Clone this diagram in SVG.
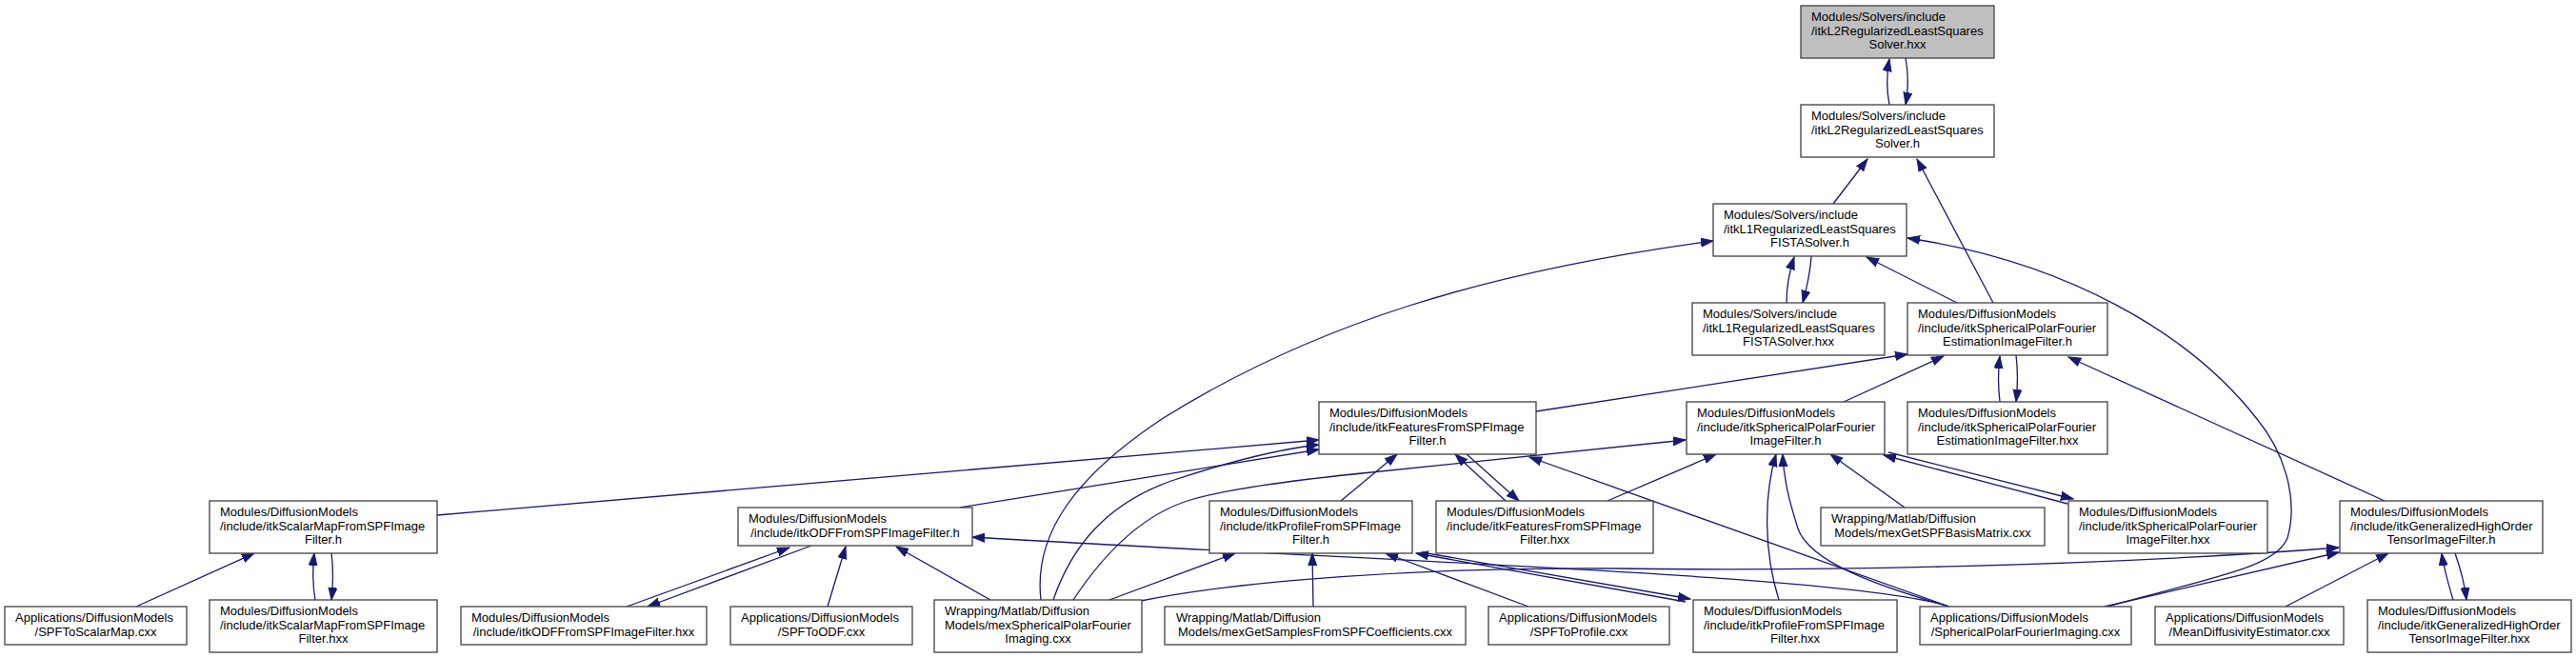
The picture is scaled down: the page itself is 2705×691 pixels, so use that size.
<svg xmlns="http://www.w3.org/2000/svg" width="2705" height="691" viewBox="0 0 2705 691">
<defs>
<marker id="ah" markerWidth="16" markerHeight="12" refX="13" refY="5" orient="auto" markerUnits="userSpaceOnUse">
<path d="M0,0.5 L13,5 L0,9.5 z" fill="#191970" stroke="#191970" stroke-width="1"/>
</marker>
</defs>
<style>
.n rect{fill:#ffffff;stroke:#404040;stroke-width:1.3}
.root rect{fill:#bfbfbf}
text{font-family:"Liberation Sans",Arial,sans-serif;font-size:13px;fill:#000}
.c{text-anchor:middle}
.e path{fill:none;stroke:#191970;stroke-width:1.3;marker-end:url(#ah)}
</style>
<rect width="2705" height="691" fill="#ffffff"/>
<g class="e" id="connectors">
<path d="M1984,110 C1981,95 1981,78 1984,62"/>
<path d="M2001,61 C2004,77 2004,94 2001,110"/>
<path d="M1925,214 L1961,167"/>
<path d="M2093,318 L2013,167"/>
<path d="M1876,318 C1876,300 1879,285 1884,270"/>
<path d="M1902,269 C1901,288 1897,303 1893,318"/>
<path d="M2055,318 L1960,270"/>
<path d="M1093,630 C1085,560 1130,500 1220,440 C1380,340 1560,285 1799,253"/>
<path d="M2212,637 C2330,605 2390,595 2402,565 C2415,520 2395,470 2370,440 C2300,350 2170,275 2003,250"/>
<path d="M1613,432 L2003,372"/>
<path d="M1936,422 L2041,374"/>
<path d="M2100,422 C2098,405 2098,390 2100,374"/>
<path d="M2117,373 C2119,390 2119,405 2117,422"/>
<path d="M2504,526 L2172,375"/>
<path d="M459,541 L1385,462"/>
<path d="M1008,533 L1385,472"/>
<path d="M1106,630 C1125,575 1160,530 1230,505 C1290,485 1340,472 1385,467"/>
<path d="M1127,630 C1160,580 1200,540 1250,525 C1300,510 1400,500 1440,496 L1770,462"/>
<path d="M658,637 L829,575"/>
<path d="M852,573 L680,637"/>
<path d="M869,637 L888,574"/>
<path d="M1040,630 L941,574"/>
<path d="M2047,637 C1950,605 1500,592 1021,564"/>
<path d="M1379,637 L1378,581"/>
<path d="M1165,630 L1297,581"/>
<path d="M1605,637 L1455,581"/>
<path d="M1770,632 L1487,581"/>
<path d="M1493,580 L1775,629"/>
<path d="M2400,637 L2508,581"/>
<path d="M2576,630 C2570,610 2566,596 2564,581"/>
<path d="M2578,581 C2584,598 2588,613 2590,630"/>
<path d="M2210,637 L2456,580"/>
<path d="M1198,631 C1300,610 1500,595 1700,597 C1900,600 2200,595 2456,575"/>
<path d="M1408,526 L1467,477"/>
<path d="M1581,526 L1528,477"/>
<path d="M1539,476 L1595,526"/>
<path d="M2047,637 L1606,480"/>
<path d="M1688,526 L1802,477"/>
<path d="M1868,630 C1852,580 1852,520 1865,477"/>
<path d="M2047,637 C1970,615 1900,590 1888,555 C1880,530 1873,505 1872,477"/>
<path d="M2000,533 L1922,477"/>
<path d="M2171,529 L1978,478"/>
<path d="M1983,475 L2177,524"/>
<path d="M143,637 L267,581"/>
<path d="M331,630 C328,612 328,598 330,581"/>
<path d="M348,580 C350,597 350,613 348,630"/>
</g>
<g id="node-A" class="n root"><rect x="1891" y="6" width="203" height="55"/><text x="1902" y="22">Modules/Solvers/include</text><text x="1902" y="36.5">/itkL2RegularizedLeastSquares</text><text class="c" x="1992.5" y="51">Solver.hxx</text></g>
<g id="node-B" class="n"><rect x="1891" y="110" width="203" height="55"/><text x="1902" y="126">Modules/Solvers/include</text><text x="1902" y="140.5">/itkL2RegularizedLeastSquares</text><text class="c" x="1992.5" y="155">Solver.h</text></g>
<g id="node-C" class="n"><rect x="1799" y="214" width="203" height="55"/><text x="1810" y="230">Modules/Solvers/include</text><text x="1810" y="244.5">/itkL1RegularizedLeastSquares</text><text class="c" x="1900.5" y="259">FISTASolver.h</text></g>
<g id="node-D" class="n"><rect x="1777" y="318" width="202" height="55"/><text x="1788" y="334">Modules/Solvers/include</text><text x="1788" y="348.5">/itkL1RegularizedLeastSquares</text><text class="c" x="1878" y="363">FISTASolver.hxx</text></g>
<g id="node-E" class="n"><rect x="2003" y="318" width="210" height="55"/><text x="2014" y="334">Modules/DiffusionModels</text><text x="2014" y="348.5">/include/itkSphericalPolarFourier</text><text class="c" x="2108" y="363">EstimationImageFilter.h</text></g>
<g id="node-F" class="n"><rect x="2003" y="422" width="210" height="55"/><text x="2014" y="438">Modules/DiffusionModels</text><text x="2014" y="452.5">/include/itkSphericalPolarFourier</text><text class="c" x="2108" y="467">EstimationImageFilter.hxx</text></g>
<g id="node-G" class="n"><rect x="1385" y="422" width="228" height="55"/><text x="1396" y="438">Modules/DiffusionModels</text><text x="1396" y="452.5">/include/itkFeaturesFromSPFImage</text><text class="c" x="1499" y="467">Filter.h</text></g>
<g id="node-H" class="n"><rect x="1771" y="422" width="208" height="55"/><text x="1782" y="438">Modules/DiffusionModels</text><text x="1782" y="452.5">/include/itkSphericalPolarFourier</text><text class="c" x="1875" y="467">ImageFilter.h</text></g>
<g id="node-X" class="n"><rect x="220" y="526" width="239" height="55"/><text x="231" y="542">Modules/DiffusionModels</text><text x="231" y="556.5">/include/itkScalarMapFromSPFImage</text><text class="c" x="339.5" y="571">Filter.h</text></g>
<g id="node-V" class="n"><rect x="775" y="533" width="246" height="40"/><text x="786" y="549">Modules/DiffusionModels</text><text class="c" x="898" y="563.5">/include/itkODFFromSPFImageFilter.h</text></g>
<g id="node-I" class="n"><rect x="1270" y="526" width="213" height="55"/><text x="1281" y="542">Modules/DiffusionModels</text><text x="1281" y="556.5">/include/itkProfileFromSPFImage</text><text class="c" x="1376.5" y="571">Filter.h</text></g>
<g id="node-J" class="n"><rect x="1508" y="526" width="228" height="55"/><text x="1519" y="542">Modules/DiffusionModels</text><text x="1519" y="556.5">/include/itkFeaturesFromSPFImage</text><text class="c" x="1622" y="571">Filter.hxx</text></g>
<g id="node-K" class="n"><rect x="1912" y="533" width="235" height="40"/><text x="1923" y="549">Wrapping/Matlab/Diffusion</text><text class="c" x="2029.5" y="563.5">Models/mexGetSPFBasisMatrix.cxx</text></g>
<g id="node-L" class="n"><rect x="2172" y="526" width="209" height="55"/><text x="2183" y="542">Modules/DiffusionModels</text><text x="2183" y="556.5">/include/itkSphericalPolarFourier</text><text class="c" x="2276.5" y="571">ImageFilter.hxx</text></g>
<g id="node-M" class="n"><rect x="2457" y="526" width="213" height="55"/><text x="2468" y="542">Modules/DiffusionModels</text><text x="2468" y="556.5">/include/itkGeneralizedHighOrder</text><text class="c" x="2563.5" y="571">TensorImageFilter.h</text></g>
<g id="node-Z" class="n"><rect x="5" y="637" width="191" height="40"/><text x="16" y="653">Applications/DiffusionModels</text><text class="c" x="100.5" y="667.5">/SPFToScalarMap.cxx</text></g>
<g id="node-Y" class="n"><rect x="220" y="630" width="239" height="55"/><text x="231" y="646">Modules/DiffusionModels</text><text x="231" y="660.5">/include/itkScalarMapFromSPFImage</text><text class="c" x="339.5" y="675">Filter.hxx</text></g>
<g id="node-W" class="n"><rect x="484" y="637" width="258" height="40"/><text x="495" y="653">Modules/DiffusionModels</text><text class="c" x="613" y="667.5">/include/itkODFFromSPFImageFilter.hxx</text></g>
<g id="node-U" class="n"><rect x="767" y="637" width="191" height="40"/><text x="778" y="653">Applications/DiffusionModels</text><text class="c" x="862.5" y="667.5">/SPFToODF.cxx</text></g>
<g id="node-T" class="n"><rect x="981" y="630" width="218" height="55"/><text x="992" y="646">Wrapping/Matlab/Diffusion</text><text x="992" y="660.5">Models/mexSphericalPolarFourier</text><text class="c" x="1090" y="675">Imaging.cxx</text></g>
<g id="node-S" class="n"><rect x="1223" y="637" width="316" height="40"/><text x="1235" y="653">Wrapping/Matlab/Diffusion</text><text class="c" x="1381" y="667.5">Models/mexGetSamplesFromSPFCoefficients.cxx</text></g>
<g id="node-R" class="n"><rect x="1563" y="637" width="190" height="40"/><text x="1574" y="653">Applications/DiffusionModels</text><text class="c" x="1658" y="667.5">/SPFToProfile.cxx</text></g>
<g id="node-Q" class="n"><rect x="1778" y="630" width="214" height="55"/><text x="1789" y="646">Modules/DiffusionModels</text><text x="1789" y="660.5">/include/itkProfileFromSPFImage</text><text class="c" x="1885" y="675">Filter.hxx</text></g>
<g id="node-P" class="n"><rect x="2016" y="637" width="222" height="40"/><text x="2027" y="653">Applications/DiffusionModels</text><text class="c" x="2127" y="667.5">/SphericalPolarFourierImaging.cxx</text></g>
<g id="node-O" class="n"><rect x="2263" y="637" width="198" height="40"/><text x="2274" y="653">Applications/DiffusionModels</text><text class="c" x="2362" y="667.5">/MeanDiffusivityEstimator.cxx</text></g>
<g id="node-N" class="n"><rect x="2486" y="630" width="214" height="55"/><text x="2497" y="646">Modules/DiffusionModels</text><text x="2497" y="660.5">/include/itkGeneralizedHighOrder</text><text class="c" x="2593" y="675">TensorImageFilter.hxx</text></g>
</svg>
